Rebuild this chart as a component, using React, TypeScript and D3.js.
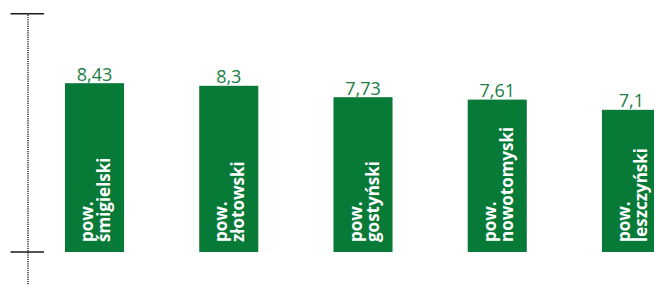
import React from "react";
import * as d3 from "d3";

const categories = ["śmigielski", "złotowski", "gostyński", "nowotomyski", "leszczyński"];
const prefix = "pow.";
const values = [8.43, 8.3, 7.73, 7.61, 7.1];
const valueLabels = ["8,43", "8,3", "7,73", "7,61", "7,1"];
const axisTicks = [0, 11.9];

const W = 654;
const H = 285;
const BAR = "#087a37";
const TXT = "#1a7d43";

export default function App() {
  const x = d3.scaleBand<string>().domain(categories).range([65, 661]).paddingInner(0.56).paddingOuter(0);
  const y = d3.scaleLinear().domain([0, 11.9]).range([252, 13.7]);
  const axisX = 28;
  return (
    <svg width={W} height={H} style={{ position: "absolute", left: 0, top: 0, display: "block" }}>
      <line x1={axisX} x2={axisX} y1={y(11.9) + 1} y2={H} stroke="#333" strokeWidth={1.5} strokeDasharray="1.2 1" />
      {axisTicks.map((t) => (
        <line key={t} x1={10.5} x2={44} y1={y(t)} y2={y(t)} stroke="#1a1a1a" strokeWidth={1.5} />
      ))}
      {categories.map((c, i) => {
        const bx = x(c)!;
        const bw = x.bandwidth();
        const top = y(values[i]);
        const base = y(0);
        const cx = bx + bw / 2;
        return (
          <g key={c}>
            <rect x={bx} y={top} width={bw} height={base - top} fill={BAR} />
            <text x={cx} y={top - 2.5} textAnchor="middle" fill={TXT} fontFamily="'Open Sans', sans-serif" fontSize={18}>
              {valueLabels[i]}
            </text>
            <text
              transform={`translate(${cx},${base - 10}) rotate(-90)`}
              fill="#fff"
              fontFamily="'Open Sans', sans-serif"
              fontWeight="bold"
              fontSize={17}
            >
              <tspan x={0} y={-1.5}>{prefix}</tspan>
              <tspan x={0} y={15.5}>{c}</tspan>
            </text>
          </g>
        );
      })}
    </svg>
  );
}
